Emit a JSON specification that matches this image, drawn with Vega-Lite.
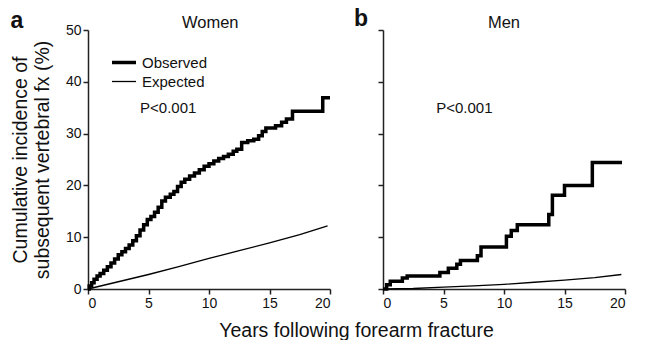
{
  "$schema": "https://vega.github.io/schema/vega-lite/v6.json",
  "padding": {"left": 10, "top": 8, "right": 0, "bottom": 0},
  "background": "white",
  "config": {
    "font": "Liberation Sans",
    "view": {"stroke": null},
    "axis": {
      "domainColor": "#222", "domainWidth": 1.5, "tickColor": "#222", "tickWidth": 1.5, "tickSize": 5,
      "labelFontSize": 14, "labelColor": "#111", "titleFontSize": 19.5, "titleFontWeight": "normal", "titleColor": "#111", "grid": false
    }
  },
  "datasets": {
    "women": [
      {"t": 0, "v": 0, "series": "Observed"},
      {"t": 0.1, "v": 0.6, "series": "Observed"},
      {"t": 0.3, "v": 1.2, "series": "Observed"},
      {"t": 0.5, "v": 1.9, "series": "Observed"},
      {"t": 0.75, "v": 2.5, "series": "Observed"},
      {"t": 1.0, "v": 3.0, "series": "Observed"},
      {"t": 1.3, "v": 3.6, "series": "Observed"},
      {"t": 1.6, "v": 4.3, "series": "Observed"},
      {"t": 1.9, "v": 5.0, "series": "Observed"},
      {"t": 2.2, "v": 5.8, "series": "Observed"},
      {"t": 2.5, "v": 6.6, "series": "Observed"},
      {"t": 2.8, "v": 7.2, "series": "Observed"},
      {"t": 3.1, "v": 7.8, "series": "Observed"},
      {"t": 3.4, "v": 8.5, "series": "Observed"},
      {"t": 3.7, "v": 9.3, "series": "Observed"},
      {"t": 4.0, "v": 10.3, "series": "Observed"},
      {"t": 4.3, "v": 11.4, "series": "Observed"},
      {"t": 4.6, "v": 12.4, "series": "Observed"},
      {"t": 4.9, "v": 13.4, "series": "Observed"},
      {"t": 5.2, "v": 14.0, "series": "Observed"},
      {"t": 5.5, "v": 14.8, "series": "Observed"},
      {"t": 5.8, "v": 15.8, "series": "Observed"},
      {"t": 6.1, "v": 17.0, "series": "Observed"},
      {"t": 6.4, "v": 17.7, "series": "Observed"},
      {"t": 6.8, "v": 18.3, "series": "Observed"},
      {"t": 7.1, "v": 18.8, "series": "Observed"},
      {"t": 7.4, "v": 19.8, "series": "Observed"},
      {"t": 7.7, "v": 20.6, "series": "Observed"},
      {"t": 8.0, "v": 21.2, "series": "Observed"},
      {"t": 8.4, "v": 21.8, "series": "Observed"},
      {"t": 8.8, "v": 22.4, "series": "Observed"},
      {"t": 9.2, "v": 23.0, "series": "Observed"},
      {"t": 9.6, "v": 23.7, "series": "Observed"},
      {"t": 10.0, "v": 24.2, "series": "Observed"},
      {"t": 10.4, "v": 24.7, "series": "Observed"},
      {"t": 10.8, "v": 25.2, "series": "Observed"},
      {"t": 11.2, "v": 25.6, "series": "Observed"},
      {"t": 11.6, "v": 26.0, "series": "Observed"},
      {"t": 12.0, "v": 26.6, "series": "Observed"},
      {"t": 12.3, "v": 27.0, "series": "Observed"},
      {"t": 12.7, "v": 28.3, "series": "Observed"},
      {"t": 13.2, "v": 28.6, "series": "Observed"},
      {"t": 13.7, "v": 28.9, "series": "Observed"},
      {"t": 14.1, "v": 29.6, "series": "Observed"},
      {"t": 14.4, "v": 30.4, "series": "Observed"},
      {"t": 14.7, "v": 31.1, "series": "Observed"},
      {"t": 15.5, "v": 31.5, "series": "Observed"},
      {"t": 16.0, "v": 32.2, "series": "Observed"},
      {"t": 16.4, "v": 32.8, "series": "Observed"},
      {"t": 16.9, "v": 34.3, "series": "Observed"},
      {"t": 19.4, "v": 36.9, "series": "Observed"},
      {"t": 20.0, "v": 36.9, "series": "Observed"},
      {"t": 0, "v": 0, "series": "Expected"},
      {"t": 2.5, "v": 1.4, "series": "Expected"},
      {"t": 5, "v": 2.8, "series": "Expected"},
      {"t": 7.5, "v": 4.3, "series": "Expected"},
      {"t": 10, "v": 5.9, "series": "Expected"},
      {"t": 12.5, "v": 7.4, "series": "Expected"},
      {"t": 15, "v": 8.9, "series": "Expected"},
      {"t": 17.5, "v": 10.5, "series": "Expected"},
      {"t": 19.8, "v": 12.2, "series": "Expected"}
    ],
    "men": [
      {"t": 0, "v": 0, "series": "Observed"},
      {"t": 0.3, "v": 0.8, "series": "Observed"},
      {"t": 0.6, "v": 1.5, "series": "Observed"},
      {"t": 1.6, "v": 2.1, "series": "Observed"},
      {"t": 2.0, "v": 2.5, "series": "Observed"},
      {"t": 4.7, "v": 3.2, "series": "Observed"},
      {"t": 5.4, "v": 4.0, "series": "Observed"},
      {"t": 6.1, "v": 4.8, "series": "Observed"},
      {"t": 6.4, "v": 5.5, "series": "Observed"},
      {"t": 7.8, "v": 6.4, "series": "Observed"},
      {"t": 8.1, "v": 8.1, "series": "Observed"},
      {"t": 10.2, "v": 10.2, "series": "Observed"},
      {"t": 10.6, "v": 11.3, "series": "Observed"},
      {"t": 11.1, "v": 12.4, "series": "Observed"},
      {"t": 13.7, "v": 14.4, "series": "Observed"},
      {"t": 14.0, "v": 18.1, "series": "Observed"},
      {"t": 15.0, "v": 20.0, "series": "Observed"},
      {"t": 17.3, "v": 24.4, "series": "Observed"},
      {"t": 19.75, "v": 24.4, "series": "Observed"},
      {"t": 0, "v": 0, "series": "Expected"},
      {"t": 2.5, "v": 0.1, "series": "Expected"},
      {"t": 5, "v": 0.35, "series": "Expected"},
      {"t": 7.5, "v": 0.6, "series": "Expected"},
      {"t": 10, "v": 0.9, "series": "Expected"},
      {"t": 12.5, "v": 1.3, "series": "Expected"},
      {"t": 15, "v": 1.7, "series": "Expected"},
      {"t": 17.5, "v": 2.2, "series": "Expected"},
      {"t": 19.7, "v": 2.8, "series": "Expected"}
    ]
  },
  "resolve": {"scale": {"strokeWidth": "independent"}, "legend": {"strokeWidth": "independent"}},
  "bounds": "flush",
  "spacing": 53,
  "hconcat": [
    {
      "width": 242,
      "height": 259,
      "layer": [
        {
          "data": {"name": "women"},
          "transform": [{"filter": "datum.series === 'Observed'"}],
          "mark": {"type": "line", "interpolate": "step-after", "color": "black"},
          "encoding": {
            "x": {"field": "t", "type": "quantitative", "scale": {"domain": [0, 20], "nice": false},
              "axis": {"values": [0, 5, 10, 15, 20], "title": "Years following forearm fracture", "titleX": 268, "titleY": 41, "titleBaseline": "middle", "titleAnchor": "middle", "titleAlign": "center"}},
            "y": {"field": "v", "type": "quantitative", "scale": {"domain": [0, 50], "nice": false},
              "axis": {"values": [0, 10, 20, 30, 40, 50], "title": ["Cumulative incidence of", "subsequent vertebral fx (%)"], "titlePadding": 13}},
            "strokeWidth": {"field": "series", "type": "nominal",
              "scale": {"domain": ["Observed", "Expected"], "range": [3.5, 1.3]},
              "legend": {"title": null, "orient": "none", "legendX": 22, "legendY": 24, "symbolType": "stroke", "symbolSize": 576, "clipHeight": 17, "symbolStrokeColor": "black", "labelFontSize": 15, "labelColor": "#111", "rowPadding": 2, "labelOffset": 4}}
          }
        },
        {
          "data": {"name": "women"},
          "transform": [{"filter": "datum.series === 'Expected'"}],
          "mark": {"type": "line", "interpolate": "linear", "color": "black"},
          "encoding": {
            "x": {"field": "t", "type": "quantitative"},
            "y": {"field": "v", "type": "quantitative"},
            "strokeWidth": {"field": "series", "type": "nominal",
              "scale": {"domain": ["Observed", "Expected"], "range": [3.5, 1.3]}}
          }
        },
        {
          "data": {"values": [{}]},
          "mark": {"type": "text", "text": "P<0.001", "align": "left", "baseline": "middle", "fontSize": 15, "color": "#111"},
          "encoding": {"x": {"datum": 4.3}, "y": {"datum": 35.0}}
        },
        {
          "data": {"values": [{}]},
          "mark": {"type": "text", "text": "Women", "align": "center", "baseline": "middle", "fontSize": 16.5, "color": "#111"},
          "encoding": {"x": {"datum": 10.1}, "y": {"datum": 51.3}}
        },
        {
          "data": {"values": [{}]},
          "mark": {"type": "text", "text": "a", "align": "left", "baseline": "middle", "fontSize": 23, "fontWeight": "bold", "color": "#111"},
          "encoding": {"x": {"datum": -6.4}, "y": {"datum": 51.7}}
        }
      ]
    },
    {
      "width": 242,
      "height": 259,
      "layer": [
        {
          "data": {"name": "men"},
          "transform": [{"filter": "datum.series === 'Observed'"}],
          "mark": {"type": "line", "interpolate": "step-after", "color": "black"},
          "encoding": {
            "x": {"field": "t", "type": "quantitative", "scale": {"domain": [0, 20], "nice": false},
              "axis": {"values": [0, 5, 10, 15, 20], "title": null}},
            "y": {"field": "v", "type": "quantitative", "scale": {"domain": [0, 50], "nice": false},
              "axis": {"values": [0, 10, 20, 30, 40, 50], "title": null, "labels": false}},
            "strokeWidth": {"field": "series", "type": "nominal",
              "scale": {"domain": ["Observed", "Expected"], "range": [3.5, 1.3]}, "legend": null}
          }
        },
        {
          "data": {"name": "men"},
          "transform": [{"filter": "datum.series === 'Expected'"}],
          "mark": {"type": "line", "interpolate": "linear", "color": "black"},
          "encoding": {
            "x": {"field": "t", "type": "quantitative"},
            "y": {"field": "v", "type": "quantitative"},
            "strokeWidth": {"field": "series", "type": "nominal",
              "scale": {"domain": ["Observed", "Expected"], "range": [3.5, 1.3]}, "legend": null}
          }
        },
        {
          "data": {"values": [{}]},
          "mark": {"type": "text", "text": "P<0.001", "align": "left", "baseline": "middle", "fontSize": 15, "color": "#111"},
          "encoding": {"x": {"datum": 4.4}, "y": {"datum": 35.0}}
        },
        {
          "data": {"values": [{}]},
          "mark": {"type": "text", "text": "Men", "align": "center", "baseline": "middle", "fontSize": 16.5, "color": "#111"},
          "encoding": {"x": {"datum": 10.0}, "y": {"datum": 51.3}}
        },
        {
          "data": {"values": [{}]},
          "mark": {"type": "text", "text": "b", "align": "left", "baseline": "middle", "fontSize": 23, "fontWeight": "bold", "color": "#111"},
          "encoding": {"x": {"datum": -2.4}, "y": {"datum": 52.1}}
        }
      ]
    }
  ]
}
